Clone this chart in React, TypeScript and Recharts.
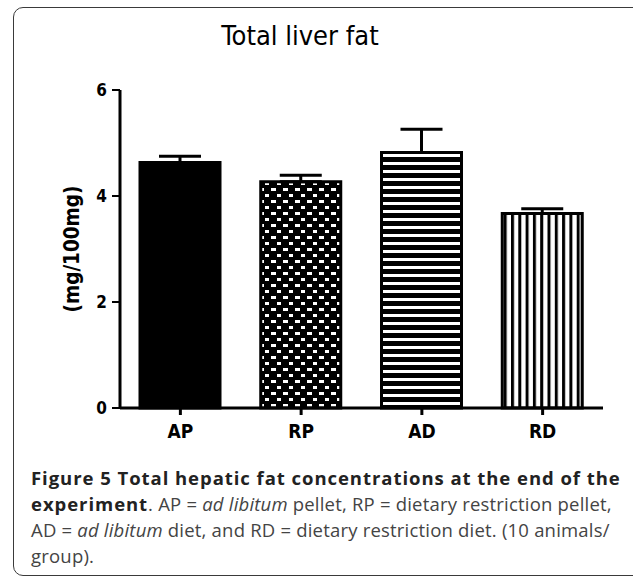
import { BarChart, Bar, XAxis, YAxis, Cell, ErrorBar } from "recharts";

const groups = ["AP", "RP", "AD", "RD"];
const fatValues = [4.63, 4.27, 4.82, 3.67];
const fatErrors = [0.12, 0.12, 0.44, 0.09];
const yTicks = [0, 2, 4, 6];
const fills = ["#000", "url(#dots)", "url(#hstripes)", "url(#vstripes)"];

const data = groups.map((g, i) => ({
  group: g,
  fat: fatValues[i],
  err: [0, fatErrors[i]],
}));

const tickFont = "'DejaVu Sans Condensed', 'DejaVu Sans', sans-serif";
const boldCap = { color: "#222", letterSpacing: "0.95px" };

export default function App() {
  return (
    <div
      style={{
        position: "absolute",
        left: 0,
        top: 0,
        width: 633,
        height: 576,
        overflow: "hidden",
        background: "#fff",
      }}
    >
      {/* rounded figure frame */}
      <div
        style={{
          position: "absolute",
          left: 13,
          top: 7,
          width: 640,
          height: 567,
          border: "1.5px solid #3a3a3a",
          borderRadius: 10,
        }}
      />
      <div
        style={{
          position: "absolute",
          left: 0,
          top: 20,
          width: 600,
          textAlign: "center",
          fontFamily: "'Liberation Sans Narrow', 'DejaVu Sans Condensed', sans-serif",
          fontSize: 27,
          color: "#000",
        }}
      >
        Total liver fat
      </div>
      <div style={{ position: "absolute", left: 0, top: 0 }}>
        <BarChart
          width={633}
          height={460}
          data={data}
          margin={{ top: 90, right: 30, left: 0, bottom: 0 }}
          barSize={80}
        >
          <defs>
            <pattern id="dots" patternUnits="userSpaceOnUse" width={12} height={12}>
              <rect x={0} y={0} width={12} height={12} fill="#000" />
              <rect x={1} y={2} width={4} height={3} fill="#fff" />
              <rect x={7} y={8} width={5} height={3} fill="#fff" />
            </pattern>
            <pattern id="hstripes" patternUnits="userSpaceOnUse" width={8} height={8}>
              <rect x={0} y={0} width={8} height={8} fill="#000" />
              <rect x={0} y={2} width={8} height={3} fill="#fff" />
            </pattern>
            <pattern id="vstripes" patternUnits="userSpaceOnUse" width={7.3} height={8}>
              <rect x={0} y={0} width={7.3} height={8} fill="#fff" />
              <rect x={0} y={0} width={3} height={8} fill="#000" />
            </pattern>
          </defs>
          <XAxis
            dataKey="group"
            height={52}
            axisLine={{ stroke: "#000", strokeWidth: 3 }}
            tickLine={{ stroke: "#000", strokeWidth: 3 }}
            tickSize={7}
            tickMargin={10}
            tick={{ fill: "#000", fontSize: 19, fontWeight: "bold", fontFamily: tickFont }}
          />
          <YAxis
            width={120}
            domain={[0, 6]}
            ticks={yTicks}
            axisLine={{ stroke: "#000", strokeWidth: 3 }}
            tickLine={{ stroke: "#000", strokeWidth: 2 }}
            tickSize={8}
            tickMargin={5}
            tick={{ fill: "#000", fontSize: 17, fontWeight: "bold", fontFamily: tickFont }}
            label={{
              value: "(mg/100mg)",
              angle: -90,
              position: "center",
              dx: 12,
              style: { fill: "#000", fontSize: 20.5, fontWeight: "bold", fontFamily: tickFont },
            }}
          />
          <Bar dataKey="fat" stroke="#000" strokeWidth={3} isAnimationActive={false}>
            {data.map((d, i) => (
              <Cell key={d.group} fill={fills[i]} />
            ))}
            <ErrorBar dataKey="err" direction="y" width={21} stroke="#000" strokeWidth={3} />
          </Bar>
        </BarChart>
      </div>
      <div
        style={{
          position: "absolute",
          left: 31,
          top: 465,
          width: 600,
          fontFamily: "'Open Sans', sans-serif",
          fontSize: 18.5,
          letterSpacing: "0.2px",
          lineHeight: "26px",
          color: "#444",
          whiteSpace: "nowrap",
        }}
      >
        <div>
          <b style={boldCap}>Figure 5 Total hepatic fat concentrations at the end of the</b>
        </div>
        <div>
          <b style={boldCap}>experiment</b>. AP = <i>ad libitum</i> pellet, RP = dietary restriction pellet,
        </div>
        <div>
          AD = <i>ad libitum</i> diet, and RD = dietary restriction diet. (10 animals/
        </div>
        <div>group).</div>
      </div>
    </div>
  );
}
